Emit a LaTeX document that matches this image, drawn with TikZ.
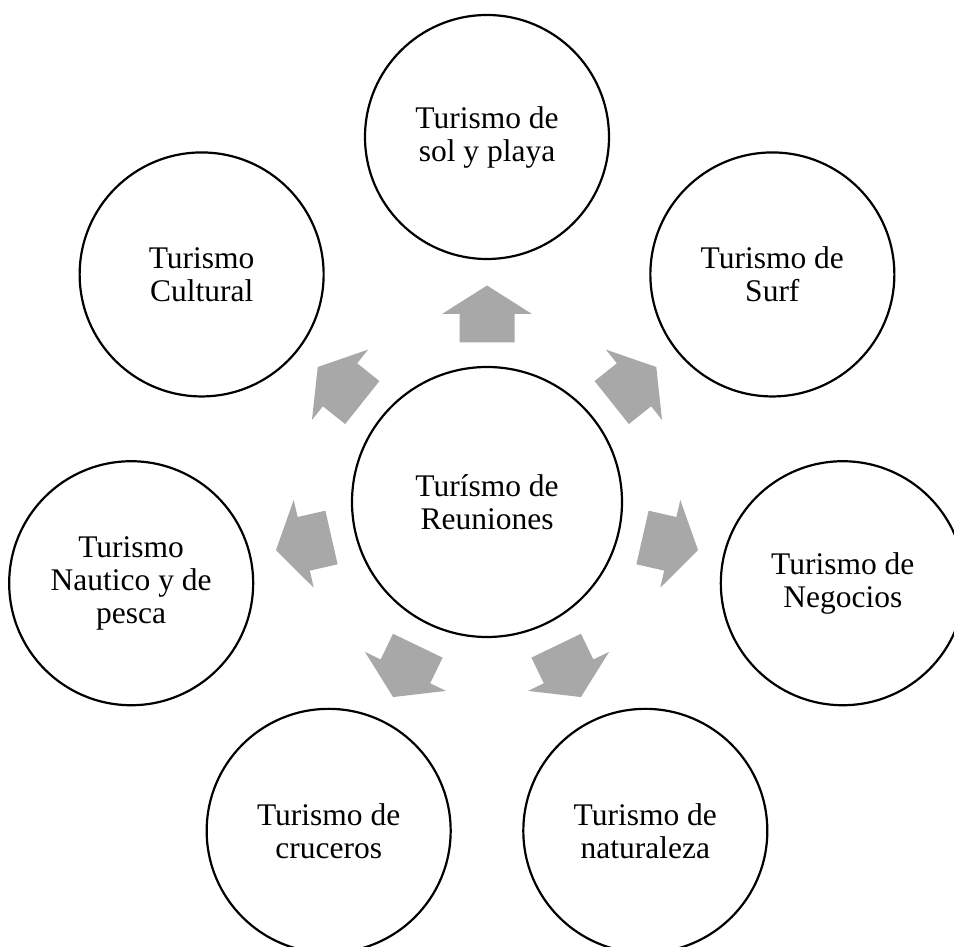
\documentclass[tikz,border=0pt]{standalone}
\usepackage{fontspec}
\setmainfont{Liberation Serif}
\definecolor{arrowgray}{RGB}{168,168,168}
\tikzset{
  tema/.style={circle, draw, line width=2.2pt, minimum size=244pt, inner sep=0pt, align=center, font=\fontsize{31.5}{33}\selectfont},
  centro/.style={tema, minimum size=270pt},
  flecha/.style={fill=arrowgray}
}
\begin{document}
\begin{tikzpicture}[x=1pt, y=1pt]
  \useasboundingbox (0,0) rectangle (954,946);
  \node[centro] (reun) at (487,444) {Turísmo de\\Reuniones};
  % circulos de fuera y flechas
  \foreach \ang/\nom/\txt in {90/sol/{Turismo de\\sol y playa}, 38.57/surf/{Turismo de\\Surf}, -12.86/neg/{Turismo de\\Negocios}, -64.29/nat/{Turismo de\\naturaleza}, -115.71/cru/{Turismo de\\cruceros}, -167.14/nau/{Turismo\\Nautico y de\\pesca}, 141.43/cul/{Turismo\\Cultural}} {
    \node[tema] (\nom) at ([shift={(\ang:365)}]reun.center) {\txt};
    \fill[flecha, shift={([shift={(\ang:188)}]reun.center)}, rotate=\ang] (-28.5,-27.5) -- (0,-27.5) -- (0,-45) -- (28.5,0) -- (0,45) -- (0,27.5) -- (-28.5,27.5) -- cycle;
  }
\end{tikzpicture}
\end{document}
